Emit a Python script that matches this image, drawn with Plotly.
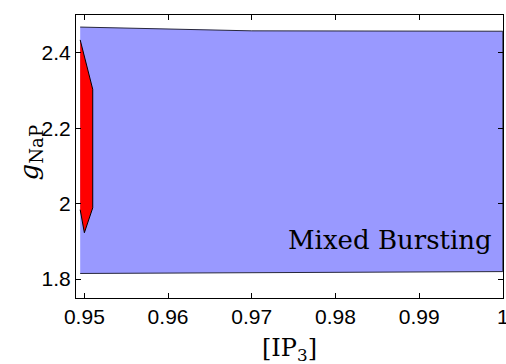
import plotly.graph_objects as go

# Mixed bursting region (blue polygon)
blue_x = [0.9495, 0.97, 1.0, 1.0, 0.9495]
blue_y = [2.468, 2.458, 2.457, 1.820, 1.815]

# Red region polygon
red_x = [0.9495, 0.9510, 0.9510, 0.9500, 0.9495]
red_y = [2.434, 2.303, 1.989, 1.923, 1.984]

x_ticks = [0.95, 0.96, 0.97, 0.98, 0.99, 1.0]
x_tick_labels = ["0.95", "0.96", "0.97", "0.98", "0.99", "1"]
y_ticks = [1.8, 2.0, 2.2, 2.4]
y_tick_labels = ["1.8", "2", "2.2", "2.4"]

fig = go.Figure()
fig.add_trace(go.Scatter(x=blue_x, y=blue_y, mode="lines", fill="toself",
                         fillcolor="rgb(153,153,255)",
                         line=dict(color="rgb(40,40,60)", width=1),
                         hoverinfo="skip", showlegend=False))
fig.add_trace(go.Scatter(x=red_x, y=red_y, mode="lines", fill="toself",
                         fillcolor="rgb(255,0,0)",
                         line=dict(color="black", width=1),
                         hoverinfo="skip", showlegend=False))

fig.add_annotation(x=0.9865, y=1.905, text="Mixed Bursting", showarrow=False,
                   font=dict(family="DejaVu Serif", size=26, color="black"),
                   xanchor="center", yanchor="middle")

# axis titles
fig.add_annotation(xref="paper", yref="paper", x=0.5, y=0, yshift=-51,
                   text="[IP<sub>3</sub>]", showarrow=False,
                   font=dict(family="DejaVu Serif", size=24, color="black"),
                   xanchor="center", yanchor="middle")
fig.add_annotation(xref="paper", yref="paper", x=0, xshift=-46, y=0.5, yshift=4,
                   text="<i>g</i><sub>NaP</sub>", showarrow=False, textangle=-90,
                   font=dict(family="DejaVu Serif", size=26, color="black"),
                   xanchor="center", yanchor="middle")

axis_common = dict(showline=True, linecolor="black", linewidth=1.2, mirror="ticks",
                   ticks="inside", ticklen=5, tickwidth=1, tickcolor="black",
                   showgrid=False, zeroline=False, automargin=False,
                   ticklabeloverflow="allow",
                   tickfont=dict(family="Liberation Sans", size=21, color="black"))

fig.update_layout(
    width=506, height=364,
    margin=dict(l=76, r=3, t=15, b=66),
    paper_bgcolor="white", plot_bgcolor="white",
    xaxis=dict(range=[0.949, 1.00002], tickvals=x_ticks, ticktext=x_tick_labels,
               **axis_common),
    yaxis=dict(range=[1.75, 2.5], tickvals=y_ticks, ticktext=y_tick_labels,
               **axis_common),
)

fig.write_html("out.html")
